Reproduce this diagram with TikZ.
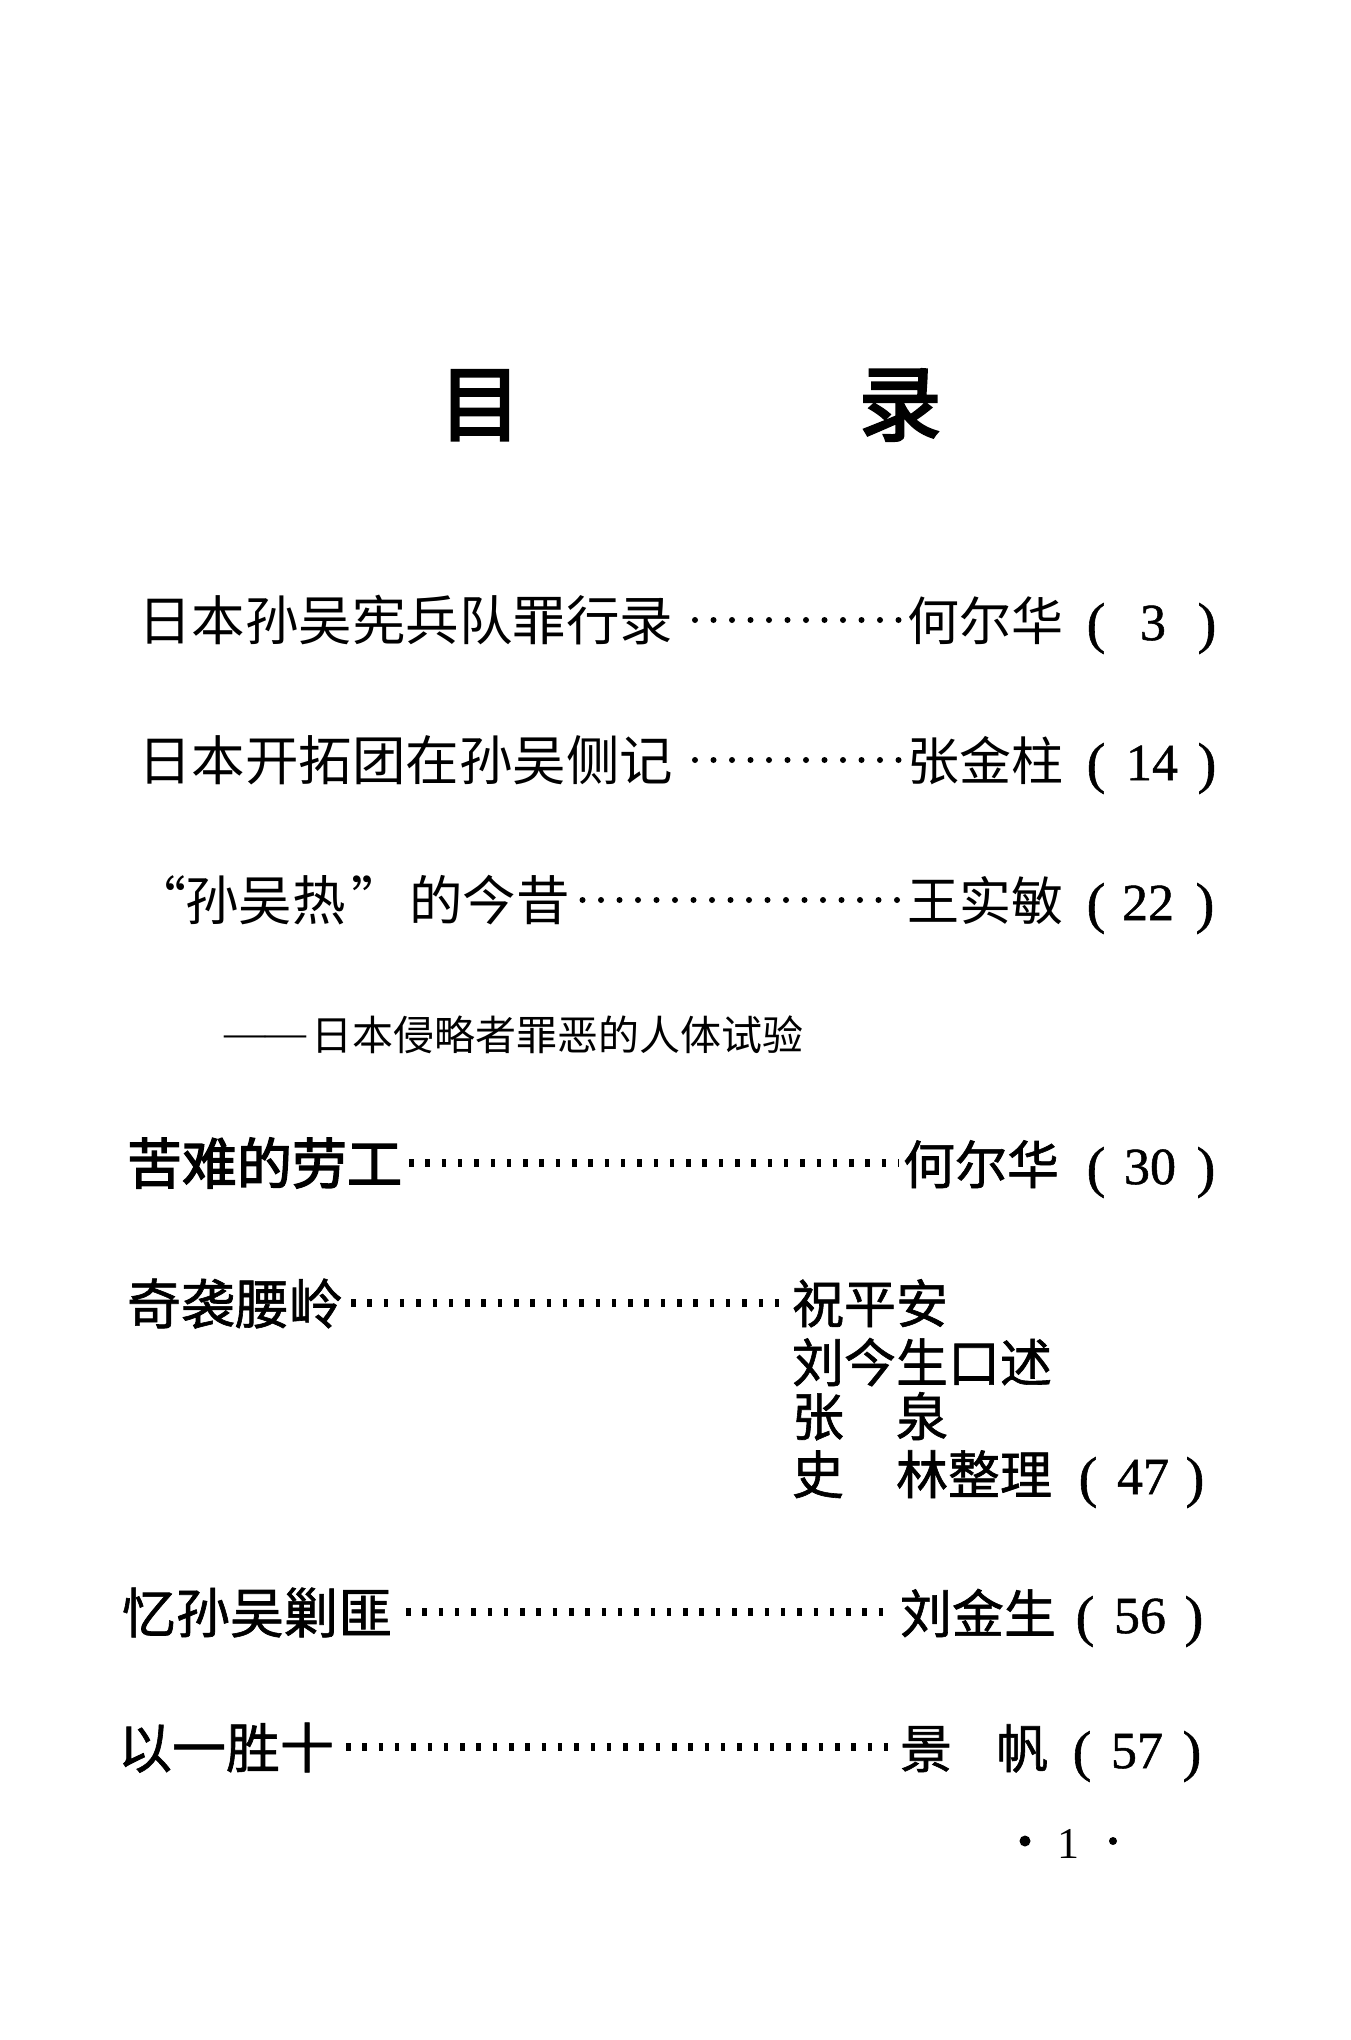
\documentclass[tikz,border=0pt]{standalone}
\usepackage{fontspec}
\usetikzlibrary{calc}
\newfontfamily\cjk{Noto Sans CJK SC}
\newfontfamily\cjkm[FakeBold=1.2]{Noto Sans CJK SC}
\newfontfamily\cjkb[FakeBold=2.5]{Noto Sans CJK SC}
\newfontfamily\cjkt[FakeBold=3.5]{Noto Sans CJK SC}
\newfontfamily\numf{Liberation Serif}
\newfontfamily\numb[FakeBold=1]{Liberation Serif}
\begin{document}
\begin{tikzpicture}[x=1pt,y=-1pt,
  every node/.style={inner sep=0pt, outer sep=0pt, text=black},
  ttl/.style={anchor=base, font=\cjkt\fontsize{82}{90}\selectfont},
  tA/.style={anchor=base west, font=\cjk\fontsize{53.5}{60}\selectfont},
  tB/.style={anchor=base west, font=\cjkm\fontsize{54}{60}\selectfont},
  tBold/.style={anchor=base west, font=\cjkb\fontsize{55}{60}\selectfont},
  qA/.style={anchor=base, font=\cjk\fontsize{53}{60}\selectfont},
  sub/.style={anchor=base west, font=\cjk\fontsize{41}{48}\selectfont},
  subdash/.style={anchor=base west, font=\numf\fontsize{41}{48}\selectfont},
  auA/.style={anchor=base west, font=\cjk\fontsize{52}{60}\selectfont},
  auB/.style={anchor=base west, font=\cjkm\fontsize{52}{60}\selectfont},
  par/.style={anchor=base, font=\numb\fontsize{56}{60}\selectfont},
  num/.style={anchor=base, font=\numb\fontsize{52}{60}\selectfont},
  pg/.style={anchor=base, font=\numf\fontsize{44}{50}\selectfont},
  ldA/.style={line width=6pt, line cap=round, dash pattern=on 0pt off 18.5pt},
  ldB/.style={line width=8pt, line cap=butt, dash pattern=on 4.5pt off 11.8pt}
]
\fill[white] (0,0) rectangle (1351,2040);
\useasboundingbox (0,0) rectangle (1351,2040);

% title
\node[ttl] (mu) at (480,434) {目};
\node[ttl] (lu) at (900,434) {录};

% row 1
\node[tA] (t1) at (138,640) {日本孙吴宪兵队罪行录};
\node[auA] (a1) at (907,640) {何尔华};
\node[par] (l1) at (1096,642) {(};
\node[num] (n1) at (1153,640) {3};
\node[par] (r1) at (1207,642) {)};
\draw[ldA] ($(t1.base east)+(22,-20)$) -- ($(t1.base east -| a1.base west)+(-5,-20)$);

% row 2
\node[tA] (t2) at (138,780) {日本开拓团在孙吴侧记};
\node[auA] (a2) at (907,780) {张金柱};
\node[par] (l2) at (1096,782) {(};
\node[num] (n2) at (1152,780) {14};
\node[par] (r2) at (1207,782) {)};
\draw[ldA] ($(t2.base east)+(22,-20)$) -- ($(t2.base east -| a2.base west)+(-5,-20)$);

% row 3
\node[qA] (q1) at (160,920) {“};
\node[tA] (t3a) at (185,920) {孙吴热};
\node[qA] (q2) at (378,920) {”};
\node[tA] (t3) at (409,920) {的今昔};
\node[auA] (a3) at (907,920) {王实敏};
\node[par] (l3) at (1096,922) {(};
\node[num] (n3) at (1148,920) {22};
\node[par] (r3) at (1205,922) {)};
\draw[ldA] ($(t3.base east)+(13,-20)$) -- ($(t3.base east -| a3.base west)+(-5,-20)$);

% subtitle
\node[subdash] (dash) at (224,1046) {——};
\node[sub] (s3) at (311,1050) {日本侵略者罪恶的人体试验};

% row 4
\node[tBold] (t4) at (127,1184) {苦难的劳工};
\node[auB] (a4) at (903,1184) {何尔华};
\node[par] (l4) at (1096,1186) {(};
\node[num] (n4) at (1150,1184) {30};
\node[par] (r4) at (1206,1186) {)};
\draw[ldB] ($(t4.base east)+(7,-21)$) -- ($(t4.base east -| a4.base west)+(-4,-21)$);

% row 5
\node[tB] (t5) at (127,1324) {奇袭腰岭};
\node[auB] (a5) at (792,1323) {祝平安};
\node[auB] (a5b) at (792,1382) {刘今生口述};
\node[auB] (a5c) at (792,1436) {张\hspace{1em}泉};
\node[auB] (a5d) at (792,1494) {史\hspace{1em}林整理};
\node[par] (l5) at (1088,1496) {(};
\node[num] (n5) at (1143,1494) {47};
\node[par] (r5) at (1195,1496) {)};
\draw[ldB] ($(t5.base east)+(8,-21)$) -- ($(t5.base east -| a5.base west)+(-4,-21)$);

% row 6
\node[tB] (t6) at (122,1633) {忆孙吴剿匪};
\node[auB] (a6) at (900,1633) {刘金生};
\node[par] (l6) at (1085,1635) {(};
\node[num] (n6) at (1140,1633) {56};
\node[par] (r6) at (1194,1635) {)};
\draw[ldB] ($(t6.base east)+(14,-21)$) -- ($(t6.base east -| a6.base west)+(-8,-21)$);

% row 7
\node[tB] (t7) at (118,1768) {以一胜十};
\node[auB] (a7) at (900,1768) {景\hspace{0.85em}帆};
\node[par] (l7) at (1082,1770) {(};
\node[num] (n7) at (1137,1768) {57};
\node[par] (r7) at (1192,1770) {)};
\draw[ldB] ($(t7.base east)+(12,-21)$) -- ($(t7.base east -| a7.base west)+(-8,-21)$);

% page number
\node[pg] (p1) at (1068,1858) {1};
\fill[black] (1025,1841) circle (5.5);
\fill[black] (1113,1841) circle (4);
\end{tikzpicture}
\end{document}
